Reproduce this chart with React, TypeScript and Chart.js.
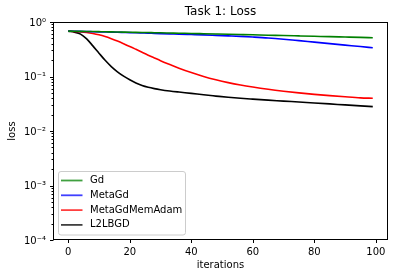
import React, { useEffect, useRef } from "react";
import { Chart, registerables } from "chart.js";

Chart.register(...registerables);

const iterations = [0, 2, 4, 6, 8, 10, 12, 14, 16, 18, 20, 22, 24, 26, 28, 30, 33, 36, 40, 44, 48, 52, 56, 60, 65, 70, 75, 80, 85, 90, 95, 99];

const gdLoss = [0.68, 0.677, 0.674, 0.671, 0.668, 0.665, 0.662, 0.658, 0.655, 0.652, 0.649, 0.646, 0.643, 0.64, 0.636, 0.633, 0.628, 0.623, 0.617, 0.61, 0.603, 0.596, 0.589, 0.582, 0.573, 0.565, 0.556, 0.547, 0.538, 0.53, 0.522, 0.515];

const metaGdLoss = [0.68, 0.677, 0.673, 0.668, 0.664, 0.66, 0.656, 0.652, 0.648, 0.643, 0.638, 0.634, 0.629, 0.624, 0.618, 0.613, 0.606, 0.6, 0.59, 0.58, 0.568, 0.556, 0.544, 0.53, 0.51, 0.484, 0.455, 0.427, 0.401, 0.377, 0.355, 0.337];

const metaGdMemAdamLoss = [0.681, 0.671, 0.659, 0.641, 0.615, 0.582, 0.541, 0.494, 0.447, 0.4, 0.356, 0.315, 0.278, 0.246, 0.219, 0.195, 0.166, 0.142, 0.118, 0.1, 0.0869, 0.0771, 0.0697, 0.064, 0.0583, 0.0538, 0.0501, 0.047, 0.0445, 0.0424, 0.0406, 0.0398];

const l2lbgdLoss = [0.68, 0.652, 0.6, 0.49, 0.365, 0.268, 0.198, 0.152, 0.122, 0.1016, 0.0869, 0.076, 0.0685, 0.0635, 0.06, 0.0573, 0.0542, 0.0518, 0.049, 0.0461, 0.0437, 0.0415, 0.0398, 0.0384, 0.0368, 0.0354, 0.034, 0.0327, 0.0314, 0.0301, 0.0289, 0.028];

const seriesNames = ["Gd", "MetaGd", "MetaGdMemAdam", "L2LBGD"];
const seriesColors = ["#008000", "#0000ff", "#ff0000", "#000000"];
const legendColors = ["rgba(0,128,0,0.75)", "rgba(0,0,255,0.75)", "rgba(255,0,0,0.75)", "rgba(0,0,0,0.75)"];

const xTickValues = [0, 20, 40, 60, 80, 100];
const yExponents = [-4, -3, -2, -1, 0];

const titleText = "Task 1: Loss";
const xTitle = "iterations";
const yTitle = "loss";

const SUP: Record<string, string> = {
  "-": "\u207B", "0": "\u2070", "1": "\u00B9", "2": "\u00B2", "3": "\u00B3",
  "4": "\u2074", "5": "\u2075", "6": "\u2076", "7": "\u2077", "8": "\u2078", "9": "\u2079",
};
const sup = (n: number) => String(n).split("").map((c) => SUP[c] || c).join("");

const FONT = "'DejaVu Sans', sans-serif";

export default function App() {
  const ref = useRef<HTMLCanvasElement>(null);

  useEffect(() => {
    document.body.style.margin = "0";
    const canvas = ref.current;
    if (!canvas) return;

    const allSeries = [gdLoss, metaGdLoss, metaGdMemAdamLoss, l2lbgdLoss];
    const datasets = allSeries.map((vals, i) => ({
      label: seriesNames[i],
      data: iterations.map((x, j) => ({ x, y: vals[j] })),
      borderColor: seriesColors[i],
      backgroundColor: seriesColors[i],
      borderWidth: 1.6,
      pointRadius: 0,
      cubicInterpolationMode: "monotone" as const,
      fill: false,
    }));

    const yTickVals: number[] = [];
    yExponents.forEach((e) => {
      if (e === 0) {
        yTickVals.push(1);
      } else {
        for (let m = 1; m <= 9; m++) yTickVals.push(m * Math.pow(10, e));
      }
    });
    const isMajor = (v: number) => {
      const l = Math.log10(v);
      return Math.abs(l - Math.round(l)) < 1e-9;
    };

    const framePlugin = {
      id: "frame",
      afterDraw(chart: any) {
        const { ctx, chartArea: a, scales } = chart;
        ctx.save();
        // Title
        ctx.fillStyle = "#000";
        ctx.font = `12px ${FONT}`;
        ctx.textAlign = "center";
        ctx.textBaseline = "middle";
        ctx.fillText(titleText, (a.left + a.right) / 2, 12);

        // Spines
        const L = Math.round(a.left) + 0.5;
        const R = Math.round(a.right) - 0.5;
        const T = Math.round(a.top) + 0.5;
        const B = Math.round(a.bottom) - 0.5;
        ctx.strokeStyle = "#000";
        ctx.lineWidth = 1;
        ctx.strokeRect(L, T, R - L, B - T);

        // Tick marks
        ctx.beginPath();
        xTickValues.forEach((v) => {
          const px = Math.round(scales.x.getPixelForValue(v)) + 0.5;
          ctx.moveTo(px, B);
          ctx.lineTo(px, B + 3.5);
        });
        yTickVals.forEach((v) => {
          const py = Math.round(scales.y.getPixelForValue(v)) + 0.5;
          const len = isMajor(v) ? 3.5 : 2;
          ctx.moveTo(L, py);
          ctx.lineTo(L - len, py);
        });
        ctx.stroke();

        // Legend
        const lx = 58.5, ly = 171.5, lw = 127, lh = 63.5, r = 2.5;
        ctx.beginPath();
        ctx.moveTo(lx + r, ly);
        ctx.lineTo(lx + lw - r, ly);
        ctx.quadraticCurveTo(lx + lw, ly, lx + lw, ly + r);
        ctx.lineTo(lx + lw, ly + lh - r);
        ctx.quadraticCurveTo(lx + lw, ly + lh, lx + lw - r, ly + lh);
        ctx.lineTo(lx + r, ly + lh);
        ctx.quadraticCurveTo(lx, ly + lh, lx, ly + lh - r);
        ctx.lineTo(lx, ly + r);
        ctx.quadraticCurveTo(lx, ly, lx + r, ly);
        ctx.closePath();
        ctx.fillStyle = "rgba(255,255,255,0.8)";
        ctx.fill();
        ctx.strokeStyle = "#cccccc";
        ctx.lineWidth = 1;
        ctx.stroke();

        ctx.font = `10px ${FONT}`;
        ctx.textAlign = "left";
        ctx.textBaseline = "middle";
        chart.data.datasets.forEach((ds: any, i: number) => {
          const y = 180.5 + i * 14.8;
          ctx.strokeStyle = legendColors[i];
          ctx.lineWidth = 1.8;
          ctx.beginPath();
          ctx.moveTo(61, y);
          ctx.lineTo(82.5, y);
          ctx.stroke();
          ctx.fillStyle = "#000";
          ctx.fillText(ds.label, 90, y);
        });
        ctx.restore();
      },
    };

    const chart = new Chart(canvas, {
      type: "line",
      data: { datasets },
      plugins: [framePlugin],
      options: {
        animation: false,
        responsive: false,
        devicePixelRatio: 1,
        font: { family: FONT, size: 10 },
        layout: { padding: { top: 22, right: 10, left: 0, bottom: 0 } },
        plugins: {
          legend: { display: false },
          title: { display: false },
          tooltip: { enabled: false },
        },
        scales: {
          x: {
            type: "linear",
            min: -4.95,
            max: 103.95,
            afterBuildTicks: (scale: any) => {
              scale.ticks = xTickValues.map((value) => ({ value }));
            },
            afterFit: (scale: any) => {
              scale.height = 38;
            },
            ticks: {
              autoSkip: false,
              maxRotation: 0,
              padding: 3,
              color: "#000",
              font: { family: FONT, size: 10 },
              callback: (v: any) => String(v),
            },
            grid: { display: true, drawOnChartArea: false, drawTicks: true, tickLength: 3.5, color: "rgba(0,0,0,0)" },
            border: { display: false },
            title: {
              display: true,
              text: xTitle,
              color: "#000",
              font: { family: FONT, size: 10 },
              padding: { top: 0, bottom: 7 },
            },
          },
          y: {
            type: "logarithmic",
            min: 1e-4,
            max: 1,
            afterBuildTicks: (scale: any) => {
              scale.ticks = yTickVals.map((value) => ({ value, major: isMajor(value) }));
            },
            afterFit: (scale: any) => {
              scale.width = 53;
            },
            ticks: {
              autoSkip: false,
              padding: 3.5,
              labelOffset: 1,
              color: "#000",
              font: { family: FONT, size: 10 },
              callback: (v: any) => {
                const n = Number(v);
                if (!isMajor(n)) return "";
                return "10" + sup(Math.round(Math.log10(n)));
              },
            },
            grid: { display: true, drawOnChartArea: false, drawTicks: true, tickLength: 3.5, color: "rgba(0,0,0,0)" },
            border: { display: false },
            title: {
              display: true,
              text: yTitle,
              color: "#000",
              font: { family: FONT, size: 10 },
              padding: { top: 6, bottom: 0 },
            },
          },
        },
      } as any,
    });

    return () => chart.destroy();
  }, []);

  return (
    <div style={{ width: 398, height: 278, position: "relative" }}>
      <canvas ref={ref} width={398} height={278} style={{ display: "block" }} />
    </div>
  );
}
